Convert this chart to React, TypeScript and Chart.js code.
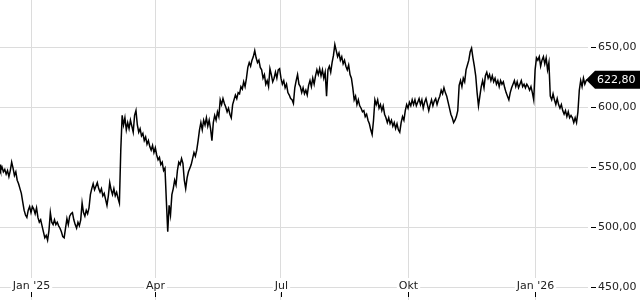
import React, { useEffect, useRef } from "react";
import { Chart, registerables } from "chart.js";

Chart.register(...registerables);

// Day offset (relative to 1 Jan 2025) of the first price, one price per calendar day
const START_DAY = -23;

const PRICES: number[] = [
  552, 547, 550, 546, 548, 544, 547, 542, 547, 554,
  549, 543, 546, 539, 536, 532, 528, 521, 514, 510,
  508, 514, 517, 512, 517, 515, 511, 516, 508, 504,
  506, 501, 496, 491, 493, 489, 497, 512, 504, 502,
  506, 502, 504, 501, 499, 496, 492, 491, 499, 507,
  502, 509, 511, 512, 506, 502, 499, 504, 501, 506,
  520, 512, 509, 514, 511, 516, 527, 532, 536, 531,
  534, 537, 532, 529, 532, 526, 528, 523, 518, 526,
  537, 531, 527, 532, 526, 529, 524, 520, 564, 593,
  585, 591, 581, 587, 582, 589, 584, 579, 593, 597,
  585, 579, 582, 576, 578, 572, 575, 569, 572, 567,
  564, 568, 562, 566, 560, 556, 558, 552, 554, 547,
  549, 522, 496, 518, 510, 527, 532, 539, 535, 547,
  554, 552, 557, 553, 539, 532, 541, 546, 549, 552,
  557, 562, 559, 564, 572, 581, 587, 581, 589, 585,
  591, 584, 589, 582, 572, 587, 593, 589, 596, 592,
  606, 602, 607, 603, 600, 596, 599, 594, 591, 602,
  606, 610, 607, 612, 611, 617, 615, 621, 617, 624,
  633, 637, 634, 639, 642, 647, 641, 637, 639, 633,
  631, 624, 627, 619, 622, 617, 632, 627, 621, 624,
  629, 624, 631, 632, 624, 619, 622, 616, 619, 612,
  610, 607, 606, 603, 616, 622, 627, 619, 617, 612,
  616, 611, 614, 610, 618, 622, 617, 624, 619, 626,
  631, 627, 632, 626, 631, 624, 629, 609, 631, 634,
  629, 637, 643, 652, 647, 642, 645, 639, 642, 636,
  639, 634, 631, 635, 627, 624, 616, 606, 609, 602,
  606, 601, 599, 596, 597, 592, 594, 589, 586, 581,
  577, 589, 606, 602, 606, 599, 602, 597, 601, 594,
  591, 587, 591, 586, 589, 584, 587, 582, 586, 581,
  579, 587, 592, 589, 597, 602, 599, 604, 601, 606,
  602, 606, 601, 604, 607, 602, 606, 599, 604, 607,
  602, 597, 602, 606, 601, 605, 607, 602, 606, 609,
  614, 611, 616, 612, 609, 604, 599, 594, 591, 587,
  589, 592, 597, 618, 622, 617, 624, 621, 631, 635,
  639, 646, 649, 641, 634, 626, 612, 601, 609, 617,
  622, 616, 626, 629, 624, 627, 622, 626, 621, 624,
  619, 622, 617, 622, 619, 621, 616, 612, 609, 606,
  612, 616, 619, 622, 617, 621, 616, 619, 622, 617,
  619, 616, 619, 617, 614, 617, 612, 606, 631, 641,
  639, 642, 634, 639, 642, 636, 641, 631, 637, 609,
  606, 611, 606, 602, 607, 602, 599, 602, 597, 594,
  597, 592, 596, 591, 593, 591, 587, 591, 587, 596,
  614, 622, 617, 624, 619, 622, 622.8,
];

const X_TICK_DAYS = [0, 90, 181, 273, 365];
const X_TICK_LABELS = ["Jan '25", "Apr", "Jul", "Okt", "Jan '26"];
const Y_TICKS = [450, 500, 550, 600, 650];
const LAST_PRICE = 622.8;

const fmt = (v: number) => v.toFixed(2).replace(".", ",");
const FONT = '11px "DejaVu Sans"';

const zeroPad = (s: any) => {
  s.paddingTop = 0;
  s.paddingBottom = 0;
  s.paddingLeft = 0;
  s.paddingRight = 0;
};

const overlay = {
  id: "overlay",
  afterDraw(chart: any) {
    const { ctx, chartArea } = chart;
    const x = chart.scales.x;
    const y = chart.scales.y;
    ctx.save();
    ctx.font = FONT;
    ctx.lineWidth = 1;
    // x labels
    const ly = y.getPixelForValue(450) - 1;
    ctx.textAlign = "center";
    ctx.textBaseline = "middle";
    X_TICK_DAYS.forEach((d, i) => {
      const px = Math.round(x.getPixelForValue(d)) + 0.5;
      const label = X_TICK_LABELS[i];
      const w = ctx.measureText(label).width;
      ctx.fillStyle = "#fff";
      ctx.fillRect(px - w / 2 - 2, ly - 8, w + 4, 15);
      ctx.fillStyle = "#222";
      ctx.fillText(label, px, ly);
      ctx.strokeStyle = "#000";
      ctx.beginPath();
      ctx.moveTo(px, 292);
      ctx.lineTo(px, 297);
      ctx.stroke();
    });
    // y tick dashes
    ctx.strokeStyle = "#000";
    Y_TICKS.forEach((v) => {
      const py = Math.round(y.getPixelForValue(v)) + 0.5;
      ctx.beginPath();
      ctx.moveTo(chartArea.right + 3, py);
      ctx.lineTo(chartArea.right + 8, py);
      ctx.stroke();
    });
    // last price tag
    const py = y.getPixelForValue(LAST_PRICE);
    const tip = chartArea.right - 2;
    ctx.fillStyle = "#000";
    ctx.beginPath();
    ctx.moveTo(tip, py);
    ctx.lineTo(tip + 9, py - 9);
    ctx.lineTo(chart.width, py - 9);
    ctx.lineTo(chart.width, py + 9);
    ctx.lineTo(tip + 9, py + 9);
    ctx.closePath();
    ctx.fill();
    ctx.fillStyle = "#fff";
    ctx.textAlign = "left";
    ctx.fillText(fmt(LAST_PRICE), chartArea.right + 9, py + 0.5);
    ctx.restore();
  },
};

export default function App() {
  const ref = useRef<HTMLCanvasElement | null>(null);
  useEffect(() => {
    document.body.style.margin = "0";
    const data = PRICES.map((v, i) => ({ x: START_DAY + i, y: v }));
    const chart = new Chart(ref.current as HTMLCanvasElement, {
      type: "line",
      data: {
        datasets: [
          {
            data,
            borderColor: "#000",
            borderWidth: 1.5,
            pointRadius: 0,
            tension: 0,
          },
        ],
      },
      options: {
        animation: false,
        responsive: false,
        devicePixelRatio: 1,
        layout: { padding: 0 },
        plugins: { legend: { display: false }, tooltip: { enabled: false } },
        scales: {
          x: {
            type: "linear",
            min: -22.45,
            max: 403.3,
            afterBuildTicks: (s: any) => {
              s.ticks = X_TICK_DAYS.map((v) => ({ value: v }));
            },
            afterFit: (s: any) => {
              s.height = 0;
              zeroPad(s);
            },
            ticks: { display: false },
            grid: { color: "#dcdcdc", drawTicks: false },
            border: { display: false },
          },
          y: {
            position: "right",
            min: 439.17,
            max: 689.17,
            afterBuildTicks: (s: any) => {
              s.ticks = Y_TICKS.map((v) => ({ value: v }));
            },
            afterFit: (s: any) => {
              s.width = 52;
              zeroPad(s);
            },
            ticks: {
              padding: 10,
              color: "#222",
              font: { family: "DejaVu Sans", size: 11 },
              callback: (v: any) => fmt(Number(v)),
            },
            grid: { color: "#dcdcdc", drawTicks: false },
            border: { display: false },
          },
        },
      },
      plugins: [overlay],
    });
    return () => chart.destroy();
  }, []);
  return (
    <div style={{ width: 640, height: 300 }}>
      <canvas ref={ref} width={640} height={300} />
    </div>
  );
}
